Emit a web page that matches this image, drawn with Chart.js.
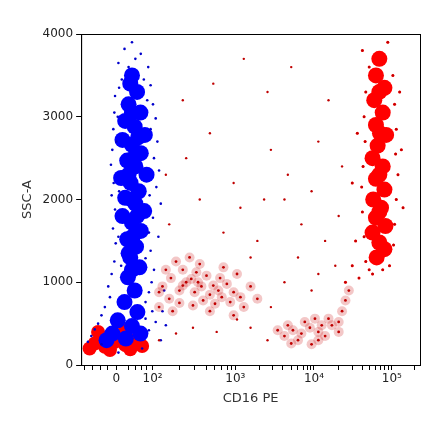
<!DOCTYPE html>
<html><head><meta charset="utf-8">
<script src="https://cdn.jsdelivr.net/npm/chart.js@4"></script>
<style>body{margin:0;background:#fff}#wrap{width:440px;height:441px}</style>
</head><body><div id="wrap"><canvas id="c"></canvas></div>
<script>
// === Data (x in display channels of the biexponential CD16 PE axis, y in SSC-A) ===
const xTickPos = [104, 211, 455, 687, 917];
const xTickLabels = ['0', '10²', '10³', '10⁴', '10⁵'];
const xMinorPos = [10, 35, 58, 78, 140, 160, 178, 194, 290, 335, 370, 395, 415, 432, 445, 525, 565, 595, 620, 638, 655, 668, 678, 760, 800, 830, 850, 868, 883, 895, 906, 985];
const yTicks = [0, 1000, 2000, 3000, 4000];

const blueCore = [[150,3500],[165,3300],[140,3150],[175,3050],[130,2950],[158,2880],[188,2780],[122,2720],[150,2660],[176,2560],[136,2470],[160,2400],[193,2300],[118,2260],[146,2200],[170,2100],[130,2020],[160,1950],[186,1860],[122,1800],[150,1720],[176,1620],[136,1520],[162,1430],[145,1300],[172,1180],[138,1060],[158,900],[128,760],[166,640],[108,540],[150,470],[92,380],[132,320],[175,380],[75,300],[150,3050],[155,2500],[150,2000],[152,1550],[150,1150],[145,3400],[168,2750],[140,2300],[165,1800],[140,1350]];
const blueSparse = [[150,3900],[128,3820],[176,3760],[110,3650],[198,3600],[120,3450],[205,3380],[100,3250],[212,3150],[98,3050],[220,2980],[95,2850],[225,2700],[92,2600],[215,2500],[88,2420],[230,2350],[96,2200],[222,2150],[90,2050],[235,1950],[100,1880],[212,1780],[94,1650],[228,1550],[102,1470],[205,1380],[98,1250],[215,1150],[90,1100],[208,1000],[80,950],[200,880],[85,820],[190,760],[70,700],[210,650],[60,600],[190,560],[50,500],[220,520],[40,430],[200,420],[30,350],[235,300],[60,250],[180,200],[20,280],[110,150],[240,650],[250,480],[245,900],[160,3700],[140,3600],[185,3450],[112,3350],[195,3200],[108,3000],[205,2850],[104,2700],[112,2100],[202,2050],[110,1550],[200,1600],[118,1200],[190,1290]];
const redLowCore = [[40,260],[70,220],[100,280],[130,240],[160,300],[60,330],[110,360],[25,200],[85,180],[145,190],[180,230],[50,400],[130,420]];
const redMid = [[240,950],[265,1050],[290,900],[310,1000],[335,880],[355,950],[380,850],[405,900],[430,980],[450,880],[470,820],[300,1150],[340,1120],[370,1080],[410,1050],[260,800],[290,750],[330,720],[360,780],[395,740],[440,760],[480,700],[250,1150],[280,1250],[320,1300],[230,700],[350,1220],[420,1180],[460,1100],[500,950],[520,800],[270,650],[380,650],[450,600],[300,960],[325,1040],[345,1000],[390,960],[415,820],[230,880]];
const redLowRight = [[600,350],[625,420],[650,380],[675,450],[700,400],[720,350],[740,480],[610,480],[660,520],[700,300],[730,560],[760,520],[640,300],[690,560],[580,420],[770,650],[780,780],[790,900],[760,400],[680,250],[620,260],[710,480]];
const redColCore = [[880,3700],[870,3500],[895,3350],[865,3200],[890,3050],[870,2900],[900,2780],[875,2650],[860,2500],[890,2400],[870,2250],[895,2120],[862,2000],[885,1900],[870,1780],[898,1680],[860,1600],[880,1480],[895,1400],[872,1300],[880,3300],[882,2800],[880,2300],[880,1850]];
const redSparse = [[830,3800],[905,3900],[850,3600],[920,3500],[840,3300],[925,3150],[835,3000],[930,2850],[838,2700],[928,2550],[832,2400],[935,2300],[828,2150],[930,2000],[830,1850],[925,1700],[835,1550],[922,1450],[840,1250],[910,1200],[850,1150],[820,1050],[800,1200],[810,1500],[800,2200],[815,2800],[945,2600],[950,1900],[940,3300],[860,1100],[890,1150],[780,1000],[560,2600],[600,2000],[520,1500],[650,1700],[450,2200],[380,2800],[300,3200],[420,1600],[700,2700],[550,3300],[480,3700],[350,2000],[640,1300],[720,1500],[500,1300],[260,1700],[600,1000],[560,700],[680,900],[750,1200],[400,400],[330,450],[500,450],[550,300],[280,380],[230,300],[460,550],[700,1100],[250,2300],[610,2300],[680,2100],[760,1800],[540,2000],[470,1900],[310,2500],[390,3400],[620,3600],[730,3200],[770,2400]];

function pts(a) { return a.map(p => ({ x: p[0], y: p[1] })); }
function ds(a, color, r) {
    return { data: pts(a), backgroundColor: color, borderWidth: 0, pointRadius: r, pointStyle: 'circle' };
}

new Chart(document.getElementById('c'), {
    type: 'scatter',
    data: {
        datasets: [
            ds(redSparse, '#c00000', 1.2),
            ds(redMid, '#c00000', 1.4),
            ds(redMid, 'rgba(200,0,0,0.22)', 5),
            ds(redLowRight, '#c00000', 1.4),
            ds(redLowRight, 'rgba(200,0,0,0.22)', 5),
            ds(redColCore, '#ff0000', 8),
            ds(redSparse.slice(0, 32), '#ff0000', 1.5),
            ds(blueSparse, '#0000cc', 1.3),
            ds(blueCore, '#0000ff', 8),
            ds(redLowCore, '#ff0000', 7)
        ]
    },
    options: {
        responsive: true,
        maintainAspectRatio: false,
        animation: false,
        layout: { padding: { top: 34, right: 20, left: 16, bottom: 33 } },
        plugins: { legend: { display: false }, tooltip: { enabled: false } },
        scales: {
            x: {
                type: 'linear', min: 0, max: 1000,
                afterBuildTicks: ax => {
                    ax.ticks = xTickPos.concat(xMinorPos).map(v => ({ value: v }));
                },
                ticks: {
                    autoSkip: false, maxRotation: 0, color: '#222', padding: 2,
                    font: { family: 'DejaVu Sans', size: 12 },
                    callback: v => { const i = xTickPos.indexOf(v); return i >= 0 ? xTickLabels[i] : ''; }
                },
                grid: { drawOnChartArea: false, color: '#000', tickLength: 5 },
                border: { color: '#000' },
                title: { display: true, text: 'CD16 PE', color: '#333', font: { family: 'DejaVu Sans', size: 13 }, padding: 2 }
            },
            y: {
                type: 'linear', min: 0, max: 4000,
                afterBuildTicks: ax => { ax.ticks = yTicks.map(v => ({ value: v })); },
                ticks: { color: '#222', font: { family: 'DejaVu Sans', size: 12 }, callback: v => String(v) },
                grid: { drawOnChartArea: false, color: '#000', tickLength: 5 },
                border: { color: '#000' },
                title: { display: true, text: 'SSC-A', color: '#333', font: { family: 'DejaVu Sans', size: 13 } }
            }
        }
    },
    plugins: [{
        id: 'frame',
        afterDraw(chart) {
            const a = chart.chartArea, ctx = chart.ctx;
            ctx.save();
            ctx.strokeStyle = '#000';
            ctx.lineWidth = 1;
            ctx.strokeRect(a.left + 0.5, a.top + 0.5, a.right - a.left, a.bottom - a.top);
            ctx.restore();
        }
    }]
});
</script></body></html>
